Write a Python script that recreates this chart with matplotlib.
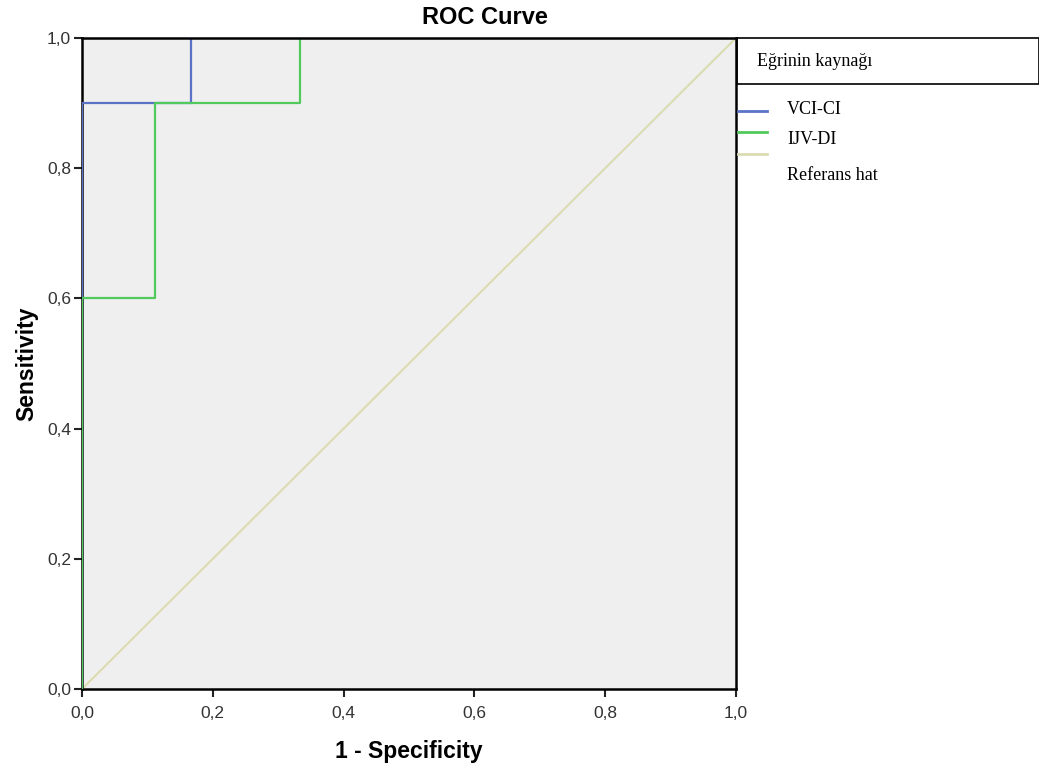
import numpy as np
import matplotlib.pyplot as plt
from matplotlib.lines import Line2D
from matplotlib.patches import Rectangle
from matplotlib.ticker import FuncFormatter, FixedLocator

# ROC steps
VCI_FPR = [0.0, 0.0, 1 / 6, 1 / 6, 1.0]
VCI_TPR = [0.0, 0.9, 0.9, 1.0, 1.0]
IJV_FPR = [0.0, 0.0, 1 / 9, 1 / 9, 1 / 3, 1 / 3, 1.0]
IJV_TPR = [0.0, 0.6, 0.6, 0.9, 0.9, 1.0, 1.0]
REF = [0.0, 1.0]

TICKS = [0.0, 0.2, 0.4, 0.6, 0.8, 1.0]
LEGEND_TITLE = 'Eğrinin kaynağı'
LEGEND_LABELS = ['VCI-CI', 'IJV-DI', 'Referans hat']
COLORS = ['#5b73c6', '#52c95c', '#dcdcb2']

W, H = 1039, 770


def comma_fmt(x, pos=None):
    return '{:.1f}'.format(x).replace('.', ',')


fig = plt.figure(figsize=(W / 100, H / 100), dpi=100)
ax = fig.add_axes([82 / W, 1 - 689 / H, (736 - 82) / W, (689 - 38) / H])
ax.set_facecolor('#efefef')

ax.plot(REF, REF, color=COLORS[2], lw=1.5, zorder=2)
ax.plot(VCI_FPR, VCI_TPR, color=COLORS[0], lw=1.6, zorder=3)
ax.plot(IJV_FPR, IJV_TPR, color=COLORS[1], lw=1.6, zorder=4)

ax.set_xlim(0, 1)
ax.set_ylim(0, 1)
ax.xaxis.set_major_locator(FixedLocator(TICKS))
ax.yaxis.set_major_locator(FixedLocator(TICKS))
ax.xaxis.set_major_formatter(FuncFormatter(comma_fmt))
ax.yaxis.set_major_formatter(FuncFormatter(comma_fmt))
ax.tick_params(direction='out', length=6, width=1.5, labelsize=12.5,
               colors='#222222')
ax.tick_params(axis='x', pad=6)
ax.tick_params(axis='y', pad=2)
for label in ax.get_xticklabels() + ax.get_yticklabels():
    label.set_fontfamily('Liberation Sans')
    label.set_color('#333333')
for sp in ax.spines.values():
    sp.set_linewidth(1.8)
    sp.set_color('black')
# top and right frame lie over the curves, as in the original
ax.spines['top'].set_zorder(6)
ax.spines['right'].set_zorder(6)

fig.text(485 / W, 1 - 18 / H, 'ROC Curve', ha='center', va='center',
         fontsize=17, fontweight='bold', fontfamily='Liberation Sans')
ax.set_xlabel('1 - Specificity', fontsize=16.5, fontweight='bold',
              fontfamily='Liberation Sans', labelpad=14)
ax.set_ylabel('Sensitivity', fontsize=16.5, fontweight='bold',
              fontfamily='Liberation Sans', labelpad=6)

# legend drawn by hand, SPSS style
tr = fig.transFigure
fig.patches.append(Rectangle((737 / W, 1 - 84 / H), (W - 737) / W, 46 / H,
                             transform=tr, fill=False, ec='black', lw=1.2))
fig.text(757 / W, 1 - 62 / H, LEGEND_TITLE, transform=tr, va='center',
         fontsize=13, fontfamily='Liberation Serif')
ys = [111, 132, 154]
ty = [109, 140, 175]
for lab, col, y, t in zip(LEGEND_LABELS, COLORS, ys, ty):
    fig.lines.append(Line2D([738 / W, 767 / W], [1 - y / H, 1 - y / H],
                            transform=tr, color=col, lw=2))
    fig.text(787 / W, 1 - t / H, lab, transform=tr, va='center',
             fontsize=13, fontfamily='Liberation Serif')

plt.savefig('out.png', dpi=100)
